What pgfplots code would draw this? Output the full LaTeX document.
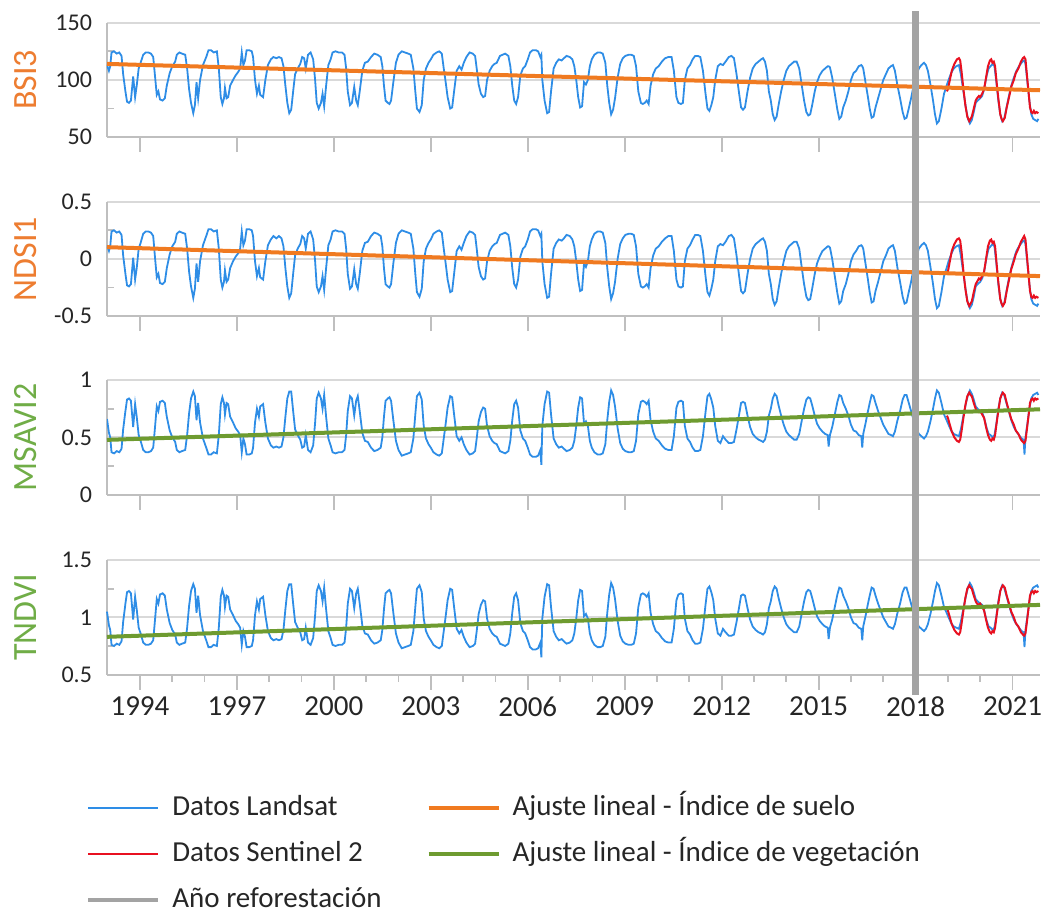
\documentclass[border=0pt]{standalone}
\usepackage{fontspec}
\setmainfont{Carlito}
\usepackage{pgfplots}
\usepackage{pgfplotstable}
\pgfplotsset{compat=1.18}
\definecolor{cblue}{RGB}{46,141,230}
\definecolor{cred}{RGB}{232,16,32}
\definecolor{corange}{RGB}{240,122,32}
\definecolor{cgreen}{RGB}{110,155,48}
\definecolor{clabor}{RGB}{237,125,49}
\definecolor{clabgr}{RGB}{112,173,71}
\definecolor{cgray}{RGB}{163,163,163}
\definecolor{gridgray}{RGB}{217,217,217}
\definecolor{axisgray}{RGB}{191,191,191}

\pgfplotstableread{
x b n m t
1992.98 113 0.12 0.66 1.05
1993.04 108 0.07 0.54 0.93
1993.08 112 0.11 0.50 0.89
1993.12 124 0.24 0.37 0.76
1993.20 125 0.25 0.36 0.75
1993.28 123 0.23 0.38 0.77
1993.36 124 0.24 0.37 0.76
1993.43 121 0.21 0.40 0.79
1993.48 105 0.03 0.57 0.96
1993.55 90 -0.13 0.73 1.12
1993.60 81 -0.23 0.83 1.22
1993.66 80 -0.24 0.84 1.23
1993.72 82 -0.22 0.82 1.21
1993.79 103 0.01 0.59 0.98
1993.85 85 -0.18 0.79 1.18
1993.90 95 -0.08 0.68 1.07
1993.96 110 0.09 0.52 0.91
1994.02 115 0.14 0.47 0.86
1994.10 122 0.22 0.39 0.78
1994.18 124 0.24 0.37 0.76
1994.26 124 0.24 0.37 0.76
1994.34 123 0.23 0.38 0.77
1994.41 120 0.20 0.41 0.80
1994.46 105 0.03 0.57 0.96
1994.52 87 -0.16 0.77 1.16
1994.57 90 -0.13 0.73 1.12
1994.62 83 -0.21 0.81 1.20
1994.70 82 -0.22 0.82 1.21
1994.77 84 -0.20 0.80 1.19
1994.83 95 -0.08 0.68 1.07
1994.92 106 0.04 0.56 0.95
1995.00 112 0.11 0.50 0.89
1995.09 116 0.15 0.46 0.85
1995.14 122 0.22 0.39 0.78
1995.22 124 0.24 0.37 0.76
1995.30 123 0.23 0.38 0.77
1995.40 122 0.22 0.39 0.78
1995.46 110 0.09 0.52 0.91
1995.52 92 -0.11 0.71 1.10
1995.58 80 -0.24 0.84 1.23
1995.65 71 -0.34 0.90 1.29
1995.70 78 -0.26 0.86 1.25
1995.75 98 -0.04 0.65 1.04
1995.80 84 -0.20 0.80 1.19
1995.86 100 -0.02 0.63 1.02
1995.95 113 0.12 0.49 0.88
1996.05 120 0.20 0.41 0.80
1996.12 126 0.26 0.35 0.74
1996.20 126 0.26 0.35 0.74
1996.28 124 0.24 0.37 0.76
1996.38 125 0.25 0.36 0.75
1996.44 110 0.09 0.52 0.91
1996.50 85 -0.18 0.79 1.18
1996.55 79 -0.25 0.85 1.24
1996.60 84 -0.20 0.80 1.19
1996.63 93 -0.10 0.70 1.09
1996.68 84 -0.20 0.80 1.19
1996.73 85 -0.18 0.79 1.18
1996.79 95 -0.08 0.68 1.07
1996.88 100 -0.02 0.63 1.02
1996.96 104 0.02 0.58 0.97
1997.04 107 0.05 0.55 0.94
1997.10 110 0.09 0.52 0.91
1997.15 124 0.24 0.37 0.76
1997.20 113 0.12 0.49 0.88
1997.25 117 0.16 0.44 0.83
1997.30 126 0.26 0.35 0.74
1997.38 126 0.26 0.35 0.74
1997.46 125 0.25 0.36 0.75
1997.50 120 0.20 0.41 0.80
1997.56 100 -0.02 0.63 1.02
1997.62 88 -0.15 0.75 1.14
1997.68 95 -0.08 0.68 1.07
1997.72 87 -0.16 0.77 1.16
1997.81 85 -0.18 0.79 1.18
1997.88 100 -0.02 0.63 1.02
1997.96 113 0.12 0.49 0.88
1998.05 118 0.17 0.43 0.82
1998.13 120 0.20 0.41 0.80
1998.22 119 0.18 0.42 0.81
1998.30 120 0.20 0.41 0.80
1998.38 119 0.18 0.42 0.81
1998.44 112 0.11 0.50 0.89
1998.50 95 -0.08 0.68 1.07
1998.56 80 -0.24 0.84 1.23
1998.62 71 -0.34 0.90 1.29
1998.68 74 -0.30 0.90 1.29
1998.74 90 -0.13 0.73 1.12
1998.80 105 0.03 0.57 0.96
1998.88 110 0.09 0.52 0.91
1998.96 114 0.13 0.48 0.87
1999.02 120 0.20 0.41 0.80
1999.08 119 0.18 0.42 0.81
1999.13 110 0.09 0.52 0.91
1999.20 122 0.22 0.39 0.78
1999.28 124 0.24 0.37 0.76
1999.36 118 0.17 0.43 0.82
1999.42 100 -0.02 0.63 1.02
1999.47 80 -0.24 0.84 1.23
1999.53 75 -0.29 0.89 1.28
1999.60 80 -0.24 0.84 1.23
1999.65 88 -0.15 0.75 1.14
1999.70 77 -0.27 0.87 1.26
1999.76 95 -0.08 0.68 1.07
1999.83 113 0.12 0.49 0.88
1999.90 118 0.17 0.43 0.82
1999.96 124 0.24 0.37 0.76
2000.05 125 0.25 0.36 0.75
2000.15 124 0.24 0.37 0.76
2000.25 124 0.24 0.37 0.76
2000.33 122 0.22 0.39 0.78
2000.38 110 0.09 0.52 0.91
2000.43 90 -0.13 0.73 1.12
2000.50 78 -0.26 0.86 1.25
2000.56 80 -0.24 0.84 1.23
2000.63 94 -0.09 0.69 1.08
2000.69 82 -0.22 0.82 1.21
2000.74 78 -0.26 0.86 1.25
2000.80 90 -0.13 0.73 1.12
2000.88 108 0.07 0.54 0.93
2000.96 115 0.14 0.47 0.86
2001.05 116 0.15 0.46 0.85
2001.15 120 0.20 0.41 0.80
2001.25 123 0.23 0.38 0.77
2001.35 122 0.22 0.39 0.78
2001.45 120 0.20 0.41 0.80
2001.50 112 0.11 0.50 0.89
2001.55 95 -0.08 0.68 1.07
2001.60 82 -0.22 0.82 1.21
2001.67 80 -0.24 0.84 1.23
2001.72 79 -0.25 0.85 1.24
2001.77 82 -0.22 0.82 1.21
2001.84 98 -0.04 0.65 1.04
2001.92 115 0.14 0.47 0.86
2002.00 122 0.22 0.39 0.78
2002.10 125 0.25 0.34 0.73
2002.20 124 0.24 0.35 0.74
2002.30 123 0.23 0.36 0.75
2002.38 122 0.22 0.37 0.76
2002.46 110 0.09 0.49 0.88
2002.52 90 -0.13 0.70 1.09
2002.57 75 -0.29 0.86 1.25
2002.65 72 -0.33 0.89 1.28
2002.72 78 -0.26 0.83 1.22
2002.78 100 -0.02 0.60 0.99
2002.85 110 0.09 0.49 0.88
2002.93 115 0.14 0.44 0.83
2003.00 118 0.17 0.41 0.80
2003.08 122 0.22 0.37 0.76
2003.18 124 0.24 0.35 0.74
2003.26 125 0.25 0.34 0.73
2003.34 123 0.23 0.36 0.75
2003.40 110 0.09 0.49 0.88
2003.46 98 -0.04 0.62 1.01
2003.52 85 -0.18 0.76 1.15
2003.60 75 -0.29 0.86 1.25
2003.66 76 -0.28 0.85 1.24
2003.72 90 -0.13 0.70 1.09
2003.80 108 0.07 0.51 0.90
2003.88 112 0.11 0.47 0.86
2003.95 109 0.08 0.50 0.89
2004.02 115 0.14 0.44 0.83
2004.10 120 0.20 0.39 0.78
2004.20 124 0.24 0.35 0.74
2004.30 123 0.23 0.36 0.75
2004.37 121 0.21 0.38 0.77
2004.42 110 0.09 0.49 0.88
2004.48 96 -0.07 0.64 1.03
2004.55 88 -0.15 0.72 1.11
2004.62 85 -0.18 0.76 1.15
2004.68 86 -0.17 0.75 1.14
2004.74 100 -0.02 0.60 0.99
2004.82 108 0.07 0.51 0.90
2004.90 112 0.11 0.47 0.86
2004.97 114 0.13 0.45 0.84
2005.04 115 0.14 0.44 0.83
2005.14 121 0.21 0.38 0.77
2005.22 122 0.22 0.37 0.76
2005.30 123 0.23 0.36 0.75
2005.40 121 0.21 0.38 0.77
2005.46 112 0.11 0.47 0.86
2005.52 95 -0.08 0.65 1.04
2005.58 82 -0.22 0.79 1.18
2005.64 79 -0.25 0.82 1.21
2005.70 85 -0.18 0.76 1.15
2005.77 104 0.02 0.56 0.95
2005.85 110 0.09 0.49 0.88
2005.92 112 0.11 0.47 0.86
2006.00 118 0.17 0.41 0.80
2006.07 124 0.24 0.35 0.74
2006.15 126 0.26 0.33 0.72
2006.25 126 0.26 0.33 0.72
2006.32 125 0.25 0.34 0.73
2006.39 120 0.20 0.39 0.78
2006.42 122 0.22 0.26 0.65
2006.45 100 -0.02 0.60 0.99
2006.52 82 -0.22 0.79 1.18
2006.60 71 -0.34 0.90 1.29
2006.66 72 -0.33 0.89 1.28
2006.72 90 -0.13 0.70 1.09
2006.80 110 0.09 0.49 0.88
2006.88 115 0.14 0.44 0.83
2006.96 118 0.17 0.41 0.80
2007.05 117 0.16 0.42 0.81
2007.12 119 0.18 0.40 0.79
2007.20 121 0.21 0.38 0.77
2007.30 120 0.20 0.39 0.78
2007.38 118 0.17 0.41 0.80
2007.44 112 0.11 0.47 0.86
2007.50 100 -0.02 0.60 0.99
2007.56 85 -0.18 0.76 1.15
2007.62 76 -0.28 0.85 1.24
2007.68 77 -0.27 0.84 1.23
2007.74 98 -0.04 0.62 1.01
2007.80 96 -0.07 0.64 1.03
2007.86 100 -0.02 0.60 0.99
2007.92 112 0.11 0.47 0.86
2007.98 118 0.17 0.41 0.80
2008.06 122 0.22 0.37 0.76
2008.16 124 0.24 0.35 0.74
2008.24 124 0.24 0.35 0.74
2008.32 123 0.23 0.36 0.75
2008.40 115 0.14 0.44 0.83
2008.46 95 -0.08 0.65 1.04
2008.52 80 -0.24 0.81 1.20
2008.58 70 -0.35 0.91 1.30
2008.64 74 -0.30 0.87 1.26
2008.70 84 -0.20 0.77 1.16
2008.78 102 0.00 0.58 0.97
2008.86 114 0.13 0.45 0.84
2008.94 119 0.18 0.40 0.79
2009.02 121 0.21 0.38 0.77
2009.12 122 0.22 0.37 0.76
2009.20 122 0.22 0.37 0.76
2009.28 121 0.21 0.38 0.77
2009.35 112 0.11 0.47 0.86
2009.42 90 -0.13 0.70 1.09
2009.50 80 -0.24 0.81 1.20
2009.56 79 -0.25 0.82 1.21
2009.62 80 -0.24 0.81 1.20
2009.68 82 -0.22 0.79 1.18
2009.74 79 -0.25 0.82 1.21
2009.80 95 -0.08 0.65 1.04
2009.88 105 0.03 0.55 0.94
2009.96 110 0.09 0.49 0.88
2010.05 112 0.11 0.47 0.86
2010.15 116 0.15 0.43 0.82
2010.25 119 0.18 0.40 0.79
2010.35 120 0.20 0.39 0.78
2010.45 120 0.20 0.39 0.78
2010.52 108 0.07 0.51 0.90
2010.60 85 -0.18 0.76 1.15
2010.66 80 -0.24 0.81 1.20
2010.74 79 -0.25 0.82 1.21
2010.80 80 -0.24 0.81 1.20
2010.86 100 -0.02 0.60 0.99
2010.94 110 0.09 0.49 0.88
2011.02 113 0.12 0.46 0.85
2011.10 118 0.17 0.41 0.80
2011.18 121 0.21 0.38 0.77
2011.26 121 0.21 0.38 0.77
2011.34 120 0.20 0.39 0.78
2011.42 108 0.07 0.51 0.90
2011.50 88 -0.15 0.72 1.11
2011.56 75 -0.29 0.86 1.25
2011.62 73 -0.32 0.88 1.27
2011.68 78 -0.26 0.83 1.22
2011.74 85 -0.18 0.76 1.15
2011.80 100 -0.02 0.60 0.99
2011.88 112 0.11 0.47 0.86
2011.96 114 0.13 0.45 0.84
2012.04 113 0.12 0.51 0.90
2012.12 116 0.15 0.48 0.87
2012.22 120 0.20 0.45 0.84
2012.30 121 0.21 0.45 0.84
2012.38 119 0.18 0.46 0.85
2012.46 105 0.03 0.57 0.96
2012.54 88 -0.15 0.70 1.09
2012.60 76 -0.28 0.80 1.19
2012.66 74 -0.30 0.81 1.20
2012.72 76 -0.28 0.80 1.19
2012.80 90 -0.13 0.69 1.08
2012.88 102 0.00 0.59 0.98
2012.96 110 0.09 0.53 0.92
2013.05 114 0.13 0.50 0.89
2013.14 116 0.15 0.48 0.87
2013.22 118 0.17 0.47 0.86
2013.28 119 0.18 0.46 0.85
2013.34 116 0.15 0.48 0.87
2013.40 108 0.07 0.55 0.94
2013.46 90 -0.13 0.69 1.08
2013.52 82 -0.22 0.75 1.14
2013.58 70 -0.35 0.84 1.23
2013.64 65 -0.40 0.88 1.27
2013.70 68 -0.37 0.86 1.25
2013.76 78 -0.26 0.78 1.17
2013.84 90 -0.13 0.69 1.08
2013.92 100 -0.02 0.61 1.00
2014.00 108 0.07 0.55 0.94
2014.08 112 0.11 0.52 0.91
2014.16 114 0.13 0.50 0.89
2014.24 116 0.15 0.48 0.87
2014.32 116 0.15 0.48 0.87
2014.40 110 0.09 0.53 0.92
2014.48 95 -0.08 0.65 1.04
2014.55 82 -0.22 0.75 1.14
2014.62 72 -0.33 0.83 1.22
2014.68 69 -0.36 0.85 1.24
2014.74 70 -0.35 0.84 1.23
2014.80 78 -0.26 0.78 1.17
2014.88 90 -0.13 0.69 1.08
2014.95 98 -0.04 0.62 1.01
2015.03 104 0.02 0.58 0.97
2015.12 108 0.07 0.55 0.94
2015.20 110 0.09 0.53 0.92
2015.28 112 0.11 0.52 0.91
2015.31 112 0.11 0.42 0.81
2015.35 111 0.10 0.52 0.91
2015.42 102 0.00 0.59 0.98
2015.50 88 -0.15 0.70 1.09
2015.58 74 -0.30 0.81 1.20
2015.64 66 -0.39 0.87 1.26
2015.70 68 -0.37 0.86 1.25
2015.76 76 -0.28 0.80 1.19
2015.84 82 -0.22 0.75 1.14
2015.92 90 -0.13 0.69 1.08
2016.00 100 -0.02 0.61 1.00
2016.08 106 0.04 0.56 0.95
2016.16 108 0.07 0.55 0.94
2016.24 112 0.11 0.52 0.91
2016.32 113 0.12 0.51 0.90
2016.35 112 0.11 0.41 0.80
2016.38 110 0.09 0.53 0.92
2016.45 98 -0.04 0.62 1.01
2016.52 86 -0.17 0.72 1.11
2016.58 75 -0.29 0.80 1.19
2016.64 67 -0.38 0.87 1.26
2016.70 68 -0.37 0.86 1.25
2016.76 76 -0.28 0.80 1.19
2016.84 84 -0.20 0.73 1.12
2016.92 92 -0.11 0.67 1.06
2017.00 100 -0.02 0.61 1.00
2017.08 105 0.03 0.57 0.96
2017.16 110 0.09 0.53 0.92
2017.24 112 0.11 0.52 0.91
2017.30 113 0.12 0.51 0.90
2017.36 108 0.07 0.55 0.94
2017.44 95 -0.08 0.65 1.04
2017.52 84 -0.20 0.73 1.12
2017.60 72 -0.33 0.83 1.22
2017.66 66 -0.39 0.87 1.26
2017.72 67 -0.38 0.87 1.26
2017.78 74 -0.30 0.81 1.20
2017.86 84 -0.20 0.73 1.12
2017.94 95 -0.08 0.65 1.04
2018.02 104 0.02 0.58 0.97
2018.10 110 0.09 0.53 0.92
2018.18 113 0.12 0.51 0.90
2018.26 115 0.14 0.49 0.88
2018.32 113 0.12 0.51 0.90
2018.38 108 0.07 0.55 0.94
2018.46 96 -0.07 0.64 1.03
2018.54 82 -0.22 0.75 1.14
2018.60 70 -0.35 0.84 1.23
2018.66 62 -0.43 0.91 1.30
2018.72 64 -0.41 0.89 1.28
2018.80 75 -0.29 0.80 1.19
2018.88 88 -0.15 0.70 1.09
2018.96 95 -0.08 0.65 1.04
2019.02 100 -0.02 0.61 1.00
2019.10 106 0.04 0.56 0.95
2019.18 110 0.09 0.53 0.92
2019.26 112 0.11 0.52 0.91
2019.34 113 0.12 0.51 0.90
2019.40 105 0.03 0.57 0.96
2019.48 90 -0.13 0.69 1.08
2019.56 75 -0.29 0.80 1.19
2019.62 66 -0.39 0.87 1.26
2019.68 62 -0.43 0.91 1.30
2019.74 65 -0.40 0.88 1.27
2019.80 72 -0.33 0.83 1.22
2019.86 80 -0.24 0.77 1.16
2019.92 82 -0.22 0.75 1.14
2020.00 84 -0.20 0.73 1.12
2020.06 86 -0.17 0.72 1.11
2020.12 92 -0.11 0.67 1.06
2020.20 104 0.02 0.58 0.97
2020.26 110 0.09 0.53 0.92
2020.32 112 0.11 0.52 0.91
2020.38 114 0.13 0.50 0.89
2020.44 112 0.11 0.52 0.91
2020.50 98 -0.04 0.62 1.01
2020.56 82 -0.22 0.75 1.14
2020.62 70 -0.35 0.84 1.23
2020.68 64 -0.41 0.89 1.28
2020.74 66 -0.39 0.87 1.26
2020.80 74 -0.30 0.81 1.20
2020.88 85 -0.18 0.73 1.12
2020.96 95 -0.08 0.65 1.04
2021.04 102 0.00 0.59 0.98
2021.12 108 0.07 0.55 0.94
2021.20 112 0.11 0.52 0.91
2021.28 115 0.14 0.49 0.88
2021.34 117 0.16 0.48 0.87
2021.37 117 0.16 0.35 0.74
2021.40 114 0.13 0.50 0.89
2021.46 98 -0.04 0.62 1.01
2021.52 82 -0.22 0.75 1.14
2021.58 70 -0.35 0.84 1.23
2021.64 66 -0.39 0.87 1.26
2021.70 65 -0.40 0.88 1.27
2021.76 64 -0.41 0.89 1.28
2021.80 66 -0.39 0.87 1.26
}\landsat

\pgfplotstableread{
x b n m t
2018.97 90 -0.13 0.69 1.08
2019.00 92 -0.11 0.67 1.06
2019.06 100 -0.02 0.61 1.00
2019.12 108 0.07 0.55 0.94
2019.20 114 0.13 0.50 0.89
2019.28 118 0.17 0.47 0.86
2019.34 119 0.18 0.46 0.85
2019.38 117 0.16 0.48 0.87
2019.42 108 0.07 0.55 0.94
2019.48 92 -0.11 0.67 1.06
2019.54 78 -0.26 0.78 1.17
2019.60 68 -0.37 0.86 1.25
2019.66 64 -0.41 0.89 1.28
2019.70 66 -0.39 0.87 1.26
2019.74 68 -0.37 0.86 1.25
2019.80 75 -0.29 0.80 1.19
2019.86 82 -0.22 0.75 1.14
2019.90 84 -0.20 0.73 1.12
2019.96 86 -0.17 0.72 1.11
2020.00 85 -0.18 0.73 1.12
2020.06 88 -0.15 0.70 1.09
2020.12 92 -0.11 0.67 1.06
2020.18 102 0.00 0.59 0.98
2020.24 112 0.11 0.52 0.91
2020.30 117 0.16 0.48 0.87
2020.34 118 0.17 0.47 0.86
2020.38 115 0.14 0.49 0.88
2020.42 116 0.15 0.48 0.87
2020.46 112 0.11 0.52 0.91
2020.50 100 -0.02 0.61 1.00
2020.56 84 -0.20 0.73 1.12
2020.62 70 -0.35 0.84 1.23
2020.66 66 -0.39 0.87 1.26
2020.70 64 -0.41 0.89 1.28
2020.76 67 -0.38 0.87 1.26
2020.82 76 -0.28 0.80 1.19
2020.90 86 -0.17 0.72 1.11
2020.96 94 -0.09 0.66 1.05
2021.04 100 -0.02 0.61 1.00
2021.10 106 0.04 0.56 0.95
2021.18 110 0.09 0.53 0.92
2021.26 116 0.15 0.48 0.87
2021.32 119 0.18 0.46 0.85
2021.36 120 0.20 0.45 0.84
2021.40 118 0.17 0.47 0.86
2021.44 106 0.04 0.56 0.95
2021.50 88 -0.15 0.70 1.09
2021.54 76 -0.28 0.80 1.19
2021.58 72 -0.33 0.83 1.22
2021.62 71 -0.34 0.84 1.23
2021.66 73 -0.32 0.82 1.21
2021.70 71 -0.34 0.84 1.23
2021.74 72 -0.33 0.83 1.22
2021.80 71 -0.34 0.84 1.23
}\sentinel

\pgfplotsset{
  panel/.style={
    scale only axis, width=466.5pt, height=57.25pt, anchor=north west,
    xmin=1992.98, xmax=2021.85,
    axis lines*=left,
    axis line style={draw=axisgray, line width=0.9pt},
    ymajorgrids, grid style={draw=gridgray, line width=0.9pt},
    xtick={1994,1997,2000,2003,2006,2009,2012,2015,2018,2021},
    xticklabels={},
    tick align=outside,
    major tick length=7.5pt, minor tick length=3.5pt,
    major x tick style={draw=axisgray, line width=0.9pt},
    minor x tick style={draw=axisgray, line width=0.9pt},
    major y tick style={draw=none},
    minor y tick style={draw=axisgray, line width=0.9pt, xshift=3.5pt},
    yticklabel style={font=\fontsize{12}{14}\selectfont, text=black!85, xshift=3.5pt},
    xticklabel style={font=\fontsize{14.5}{17}\selectfont, text=black!85},
    ylabel style={at={(axis description cs:-0.087,0.5)}, anchor=center, font=\fontsize{17}{20}\selectfont},
  },
  landsat/.style={cblue, line width=0.9pt},
  sentinel/.style={cred, line width=1pt},
}

\begin{document}
\begin{tikzpicture}
\begin{axis}[panel, at={(0pt,0pt)},
  ymin=50, ymax=150, ytick={50,100,150}, yticklabels={50,100,150}, minor ytick={75,125},
  ylabel={BSI3}, ylabel style={text=clabor}]
\addplot[landsat] table[x=x,y=b]{\landsat};
\addplot[sentinel] table[x=x,y=b]{\sentinel};
\addplot[corange, line width=2pt] coordinates {(1992.98,114) (2021.85,91)};
\end{axis}

\begin{axis}[panel, at={(0pt,-89.5pt)},
  ymin=-0.5, ymax=0.5, ytick={-0.5,0,0.5}, yticklabels={-0.5,0,0.5}, minor ytick={-0.25,0.25},
  ylabel={NDSI1}, ylabel style={text=clabor}]
\addplot[landsat] table[x=x,y=n]{\landsat};
\addplot[sentinel] table[x=x,y=n]{\sentinel};
\addplot[corange, line width=2pt] coordinates {(1992.98,0.103) (2021.85,-0.15)};
\end{axis}

\begin{axis}[panel, at={(0pt,-178.7pt)},
  ymin=0, ymax=1, ytick={0,0.5,1}, yticklabels={0,0.5,1}, minor ytick={0.25,0.75},
  ylabel={MSAVI2}, ylabel style={text=clabgr}]
\addplot[landsat] table[x=x,y=m]{\landsat};
\addplot[sentinel] table[x=x,y=m]{\sentinel};
\addplot[cgreen, line width=2pt] coordinates {(1992.98,0.478) (2021.85,0.745)};
\end{axis}

\begin{axis}[panel, at={(0pt,-268.7pt)}, clip=false,
  ymin=0.5, ymax=1.5, ytick={0.5,1,1.5}, yticklabels={0.5,1,1.5}, minor ytick={0.75,1.25},
  xticklabels={1994,1997,2000,2003,2006,2009,2012,2015,2018,2021},
  minor xtick={1995,1996,1998,1999,2001,2002,2004,2005,2007,2008,2010,2011,2013,2014,2016,2017,2019,2020},
  ylabel={TNDVI}, ylabel style={text=clabgr},
  legend columns=2,
  legend cell align=left,
  legend image code/.code={\draw[#1] (0pt,0pt) -- (35pt,0pt);},
  legend style={draw=none, fill=none, at={(axis description cs:-0.0225,-1.05)}, anchor=north west,
    font=\fontsize{14.5}{17}\selectfont, text=black!85, inner sep=0pt,
    nodes={inner sep=0pt, text height=10pt, text depth=3pt},
    column sep=6pt, row sep=10pt,
    /tikz/every even column/.append style={column sep=22.5pt}},
  ]
\addlegendimage{cblue, line width=0.9pt}
\addlegendentry{Datos Landsat}
\addlegendimage{corange, line width=2pt}
\addlegendentry{Ajuste lineal - Índice de suelo}
\addlegendimage{cred, line width=0.9pt}
\addlegendentry{Datos Sentinel 2}
\addlegendimage{cgreen, line width=2pt}
\addlegendentry{Ajuste lineal - Índice de vegetación}
\addlegendimage{cgray, line width=2pt}
\addlegendentry{Año reforestación}
\addplot[landsat, forget plot] table[x=x,y=t]{\landsat};
\addplot[sentinel, forget plot] table[x=x,y=t]{\sentinel};
\addplot[cgreen, line width=2pt, forget plot] coordinates {(1992.98,0.83) (2021.85,1.109)};
\addplot[cgray, line width=3.5pt, forget plot] coordinates {(2018,0.32) (2018,6.3)};
\end{axis}
\pgfresetboundingbox
\path (-53.5pt,11.35pt) rectangle (470pt,-446.15pt);
\end{tikzpicture}
\end{document}
